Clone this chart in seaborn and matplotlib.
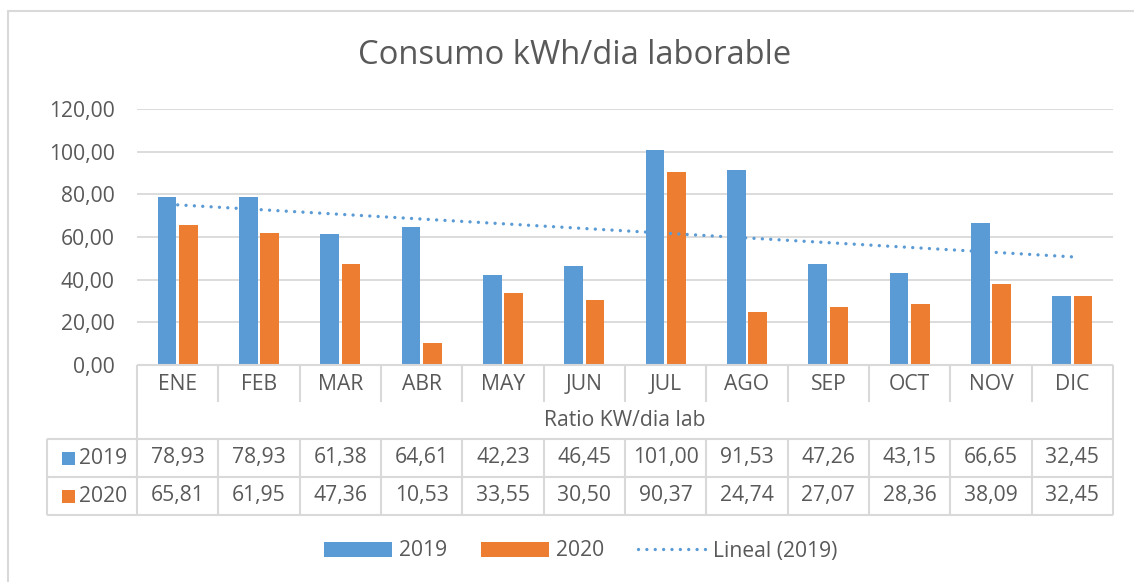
import numpy as np
import pandas as pd
import matplotlib
matplotlib.use("Agg")
import matplotlib.pyplot as plt
from matplotlib.patches import Patch, Rectangle
from matplotlib.lines import Line2D
import seaborn as sns


# Datos
meses = ['ENE', 'FEB', 'MAR', 'ABR', 'MAY', 'JUN',
         'JUL', 'AGO', 'SEP', 'OCT', 'NOV', 'DIC']
consumo_2019 = [78.93, 78.93, 61.38, 64.61, 42.23, 46.45,
                101.00, 91.53, 47.26, 43.15, 66.65, 32.45]
consumo_2020 = [65.81, 61.95, 47.36, 10.53, 33.55, 30.50,
                90.37, 24.74, 27.07, 28.36, 38.09, 32.45]
series = ['2019', '2020']
ticks_y = [0, 20, 40, 60, 80, 100, 120]
titulo = 'Consumo kWh/dia laborable'
etiqueta_x = 'Ratio KW/dia lab'
etiqueta_tendencia = 'Lineal (2019)'

AZUL = '#5B9BD5'
NARANJA = '#ED7D31'
GRIS_TXT = '#595959'
GRIS_LIN = '#D9D9D9'
FS = 15.2

W, H = 1134, 582


def fmt(v):
    return f'{v:.2f}'.replace('.', ',')


def px_rect(x0, y0, x1, y1):
    # coordenadas en pixeles (origen arriba-izquierda) -> fraccion de figura
    return [x0 / W, 1 - y1 / H, (x1 - x0) / W, (y1 - y0) / H]


sns.set_theme(style='white')
plt.rcParams['font.family'] = ['Open Sans', 'DejaVu Sans']

fig = plt.figure(figsize=(W / 100, H / 100), dpi=100)

# Grafico de barras
ax = fig.add_axes(px_rect(137, 109, 1113, 365))
df = pd.DataFrame({
    'mes': meses * 2,
    'valor': consumo_2019 + consumo_2020,
    'serie': [series[0]] * len(meses) + [series[1]] * len(meses),
})
sns.barplot(data=df, x='mes', y='valor', hue='serie', order=meses,
            palette=[AZUL, NARANJA], width=0.52, gap=0.12, saturation=1,
            linewidth=0, legend=False, ax=ax, zorder=2)

# Linea de tendencia lineal de 2019
xs = np.arange(len(meses))
pend, orig = np.polyfit(xs, consumo_2019, 1)
ax.plot(xs, pend * xs + orig, color=AZUL, lw=2.4,
        linestyle=(0, (0.01, 2.5)), dash_capstyle='round', zorder=3)

ax.set_xlim(-0.5, len(meses) - 0.5)
ax.set_ylim(0, 120)
ax.set_yticks(ticks_y)
ax.set_yticklabels([fmt(t) for t in ticks_y])
ax.set_xticks([])
ax.set_xlabel('')
ax.set_ylabel('')
ax.grid(axis='y', color=GRIS_LIN, lw=1.3, zorder=0)
ax.set_axisbelow(True)
for s in ax.spines.values():
    s.set_visible(False)
ax.tick_params(axis='y', length=0, pad=16, labelsize=FS, labelcolor=GRIS_TXT)

# Tabla de datos debajo del eje
cat_px = (1113 - 137) / len(meses)
x_izq = -0.5 - (137 - 47) / cat_px
x_der = len(meses) - 0.5
tax = fig.add_axes(px_rect(47, 365, 1113, 515))
tax.set_xlim(x_izq, x_der)
tax.set_ylim(150, 0)
tax.axis('off')

kw = dict(color=GRIS_LIN, lw=1.5, solid_capstyle='butt', clip_on=False)
tax.plot([-0.5, x_der], [0, 0], **kw)
tax.plot([-0.5, -0.5], [0, 150], **kw)
tax.plot([x_der, x_der], [0, 150], **kw)
tax.plot([x_izq, x_izq], [74, 150], **kw)
for yy in (74, 112, 150):
    tax.plot([x_izq, x_der], [yy, yy], **kw)
for k in range(len(meses) - 1):
    tax.plot([k + 0.5, k + 0.5], [0, 37], **kw)
    tax.plot([k + 0.5, k + 0.5], [74, 150], **kw)

for i, m in enumerate(meses):
    tax.text(i, 20, m, ha='center', va='center', fontsize=FS, color=GRIS_TXT)
    tax.text(i, 93, fmt(consumo_2019[i]), ha='center', va='center',
             fontsize=FS, color=GRIS_TXT)
    tax.text(i, 131, fmt(consumo_2020[i]), ha='center', va='center',
             fontsize=FS, color=GRIS_TXT)
tax.text((len(meses) - 1) / 2, 56, etiqueta_x, ha='center', va='center',
         fontsize=FS, color=GRIS_TXT)

x_cuadro = -0.5 - (137 - 62) / cat_px
x_serie = -0.5 - (137 - 79) / cat_px
for yy, col, nombre in ((93, AZUL, series[0]), (131, NARANJA, series[1])):
    tax.add_patch(Rectangle((x_cuadro, yy - 6.5), 13 / cat_px, 13,
                            facecolor=col, edgecolor='none', clip_on=False))
    tax.text(x_serie, yy, nombre, ha='left', va='center', fontsize=FS,
             color=GRIS_TXT)

# Titulo
fig.text(575 / W, 1 - 55 / H, titulo, ha='center', va='center',
         fontsize=23.6, color=GRIS_TXT)

# Leyenda inferior
handles = [
    Patch(facecolor=AZUL, edgecolor='none'),
    Patch(facecolor=NARANJA, edgecolor='none'),
    Line2D([], [], color=AZUL, lw=2.4, linestyle=(0, (0.01, 2.5)),
           dash_capstyle='round'),
]
leg = fig.legend(handles, series + [etiqueta_tendencia], loc='center',
                 bbox_to_anchor=(581 / W, 1 - 551 / H), ncol=3, frameon=False,
                 fontsize=FS, handlelength=3.2, handletextpad=0.35,
                 columnspacing=1.6)
for t in leg.get_texts():
    t.set_color(GRIS_TXT)

# Borde del grafico
borde = dict(color=GRIS_LIN, lw=1.5, transform=fig.transFigure)
fig.add_artist(Line2D([8 / W, 1], [1 - 11 / H, 1 - 11 / H], **borde))
fig.add_artist(Line2D([8 / W, 8 / W], [0, 1 - 11 / H], **borde))

fig.savefig('out.png', dpi=100, facecolor='white')
